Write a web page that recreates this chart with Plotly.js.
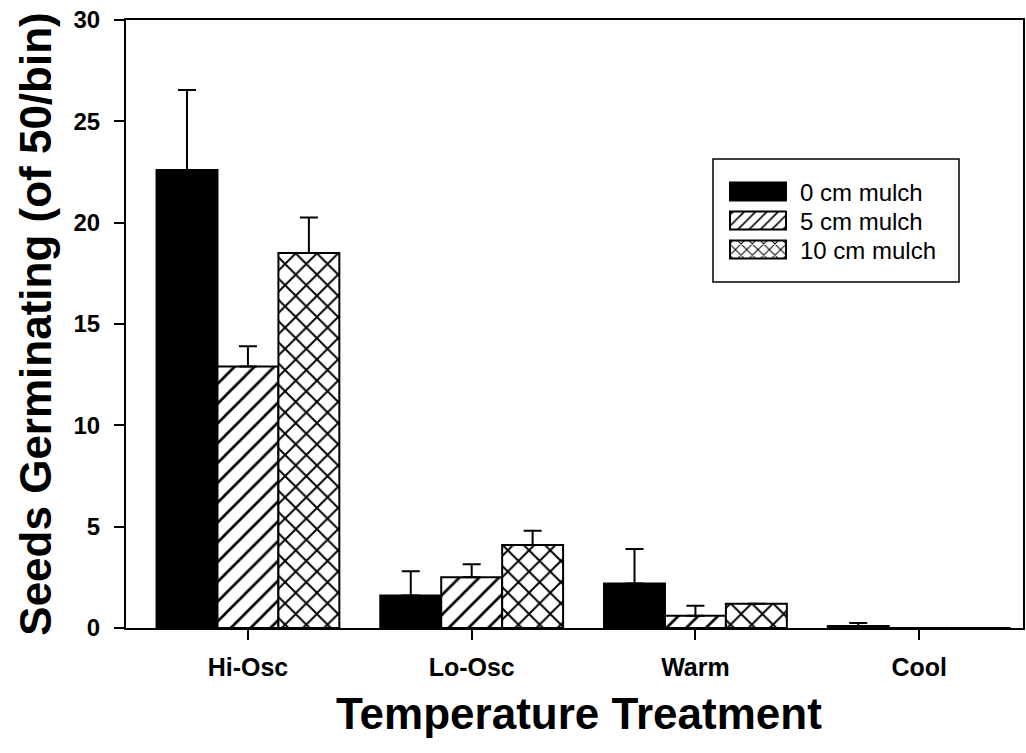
<!DOCTYPE html>
<html>
<head>
<meta charset="utf-8">
<script src="https://cdn.plot.ly/plotly-3.0.1.min.js"></script>
<style>html,body{margin:0;padding:0;background:#fff;}#chart{width:1026px;height:753px;}</style>
</head>
<body>
<div id="chart"></div>
<script>
const categories = ['Hi-Osc', 'Lo-Osc', 'Warm', 'Cool'];
const seriesNames = ['0 cm mulch', '5 cm mulch', '10 cm mulch'];
const mulch0 = [22.6, 1.6, 2.2, 0.1];
const mulch0Err = [3.95, 1.2, 1.7, 0.15];
const mulch5 = [12.9, 2.5, 0.6, 0];
const mulch5Err = [1.0, 0.65, 0.5, 0];
const mulch10 = [18.5, 4.1, 1.2, 0];
const mulch10Err = [1.75, 0.7, 0, 0];
const yTicks = [0, 5, 10, 15, 20, 25, 30];
const xTitle = 'Temperature Treatment';
const yTitle = 'Seeds Germinating (of 50/bin)';

const FONT = 'Liberation Sans, Arial, sans-serif';
const zeros = categories.map(() => 0);

function barTrace(name, vals, errs, pattern, legendId) {
  return {
    type: 'bar',
    name: name,
    x: categories,
    y: vals,
    legend: legendId,
    marker: {
      color: pattern ? '#ffffff' : '#000000',
      line: {color: '#000000', width: 2},
      pattern: pattern || {shape: ''}
    },
    error_y: {
      type: 'data', symmetric: false, array: errs, arrayminus: zeros,
      color: '#000000', thickness: 2, width: 9, visible: true
    }
  };
}

const traces = [
  barTrace(seriesNames[0], mulch0, mulch0Err, null, 'legend'),
  barTrace(seriesNames[1], mulch5, mulch5Err, {shape: '/', size: 14, solidity: 0.19, fgcolor: '#000000', fgopacity: 1, bgcolor: '#ffffff', fillmode: 'overlay'}, 'legend2'),
  barTrace(seriesNames[2], mulch10, mulch10Err, {shape: 'x', size: 15, solidity: 0.24, fgcolor: '#000000', fgopacity: 1, bgcolor: '#ffffff', fillmode: 'overlay'}, 'legend3')
];

const L = 126, R = 3, T = 20, B = 125;
const W = 1026, H = 753;
const pw = W - L - R, ph = H - T - B;
function px2x(px) { return (px - L) / pw; }
function px2y(py) { return (H - B - py) / ph; }

function legendAt(cy) {
  return {
    x: px2x(716), y: px2y(cy), xanchor: 'left', yanchor: 'middle',
    bgcolor: 'rgba(0,0,0,0)', borderwidth: 0,
    font: {family: FONT, size: 24, color: '#000000'},
    itemwidth: 74
  };
}

const layout = {
  width: W, height: H,
  margin: {l: L, r: R, t: T, b: B, pad: 0},
  paper_bgcolor: '#ffffff', plot_bgcolor: '#ffffff',
  font: {family: FONT, color: '#000000'},
  barmode: 'group', bargap: 0.183, bargroupgap: 0,
  showlegend: true,
  legend: legendAt(192),
  legend2: legendAt(221),
  legend3: legendAt(250),
  shapes: [{
    type: 'rect', xref: 'paper', yref: 'paper',
    x0: px2x(713), x1: px2x(959), y0: px2y(159), y1: px2y(282),
    line: {color: '#000000', width: 1.5}, fillcolor: 'rgba(0,0,0,0)'
  }],
  annotations: [{
    text: xTitle, xref: 'paper', yref: 'paper',
    x: px2x(579), y: px2y(713), xanchor: 'center', yanchor: 'middle',
    showarrow: false,
    font: {family: FONT, size: 44, weight: 'bold', color: '#000000'}
  }],
  xaxis: {
    type: 'category', range: [-0.545, 3.464],
    showline: true, linecolor: '#000000', linewidth: 2, mirror: true,
    ticks: 'outside', ticklen: 10, tickwidth: 2, tickcolor: '#000000',
    showgrid: false, zeroline: false,
    tickfont: {family: FONT, size: 25, weight: 'bold', color: '#000000'},
    ticklabelstandoff: 6
  },
  yaxis: {
    range: [0, 30], tickvals: yTicks, ticktext: yTicks.map(String),
    showline: true, linecolor: '#000000', linewidth: 2, mirror: true,
    ticks: 'outside', ticklen: 10, tickwidth: 2, tickcolor: '#000000',
    showgrid: false, zeroline: false,
    tickfont: {family: FONT, size: 24, weight: 'bold', color: '#000000'},
    ticklabelstandoff: 9,
    title: {text: yTitle, font: {family: FONT, size: 44, weight: 'bold', color: '#000000'}, standoff: 8}
  }
};

Plotly.newPlot('chart', traces, layout, {displayModeBar: false, staticPlot: true}).then(function (gd) {
  // enlarge the legend swatches to the wide rectangles of the original figure
  const paths = gd.querySelectorAll('.legendpoints path');
  paths.forEach(function (p) {
    const d = p.getAttribute('d') || '';
    if (/^M6,6H-6V-6H6Z$/.test(d.replace(/\s/g, ''))) {
      p.setAttribute('d', 'M28,9H-28V-9H28Z');
    }
  });
});
</script>
</body>
</html>
